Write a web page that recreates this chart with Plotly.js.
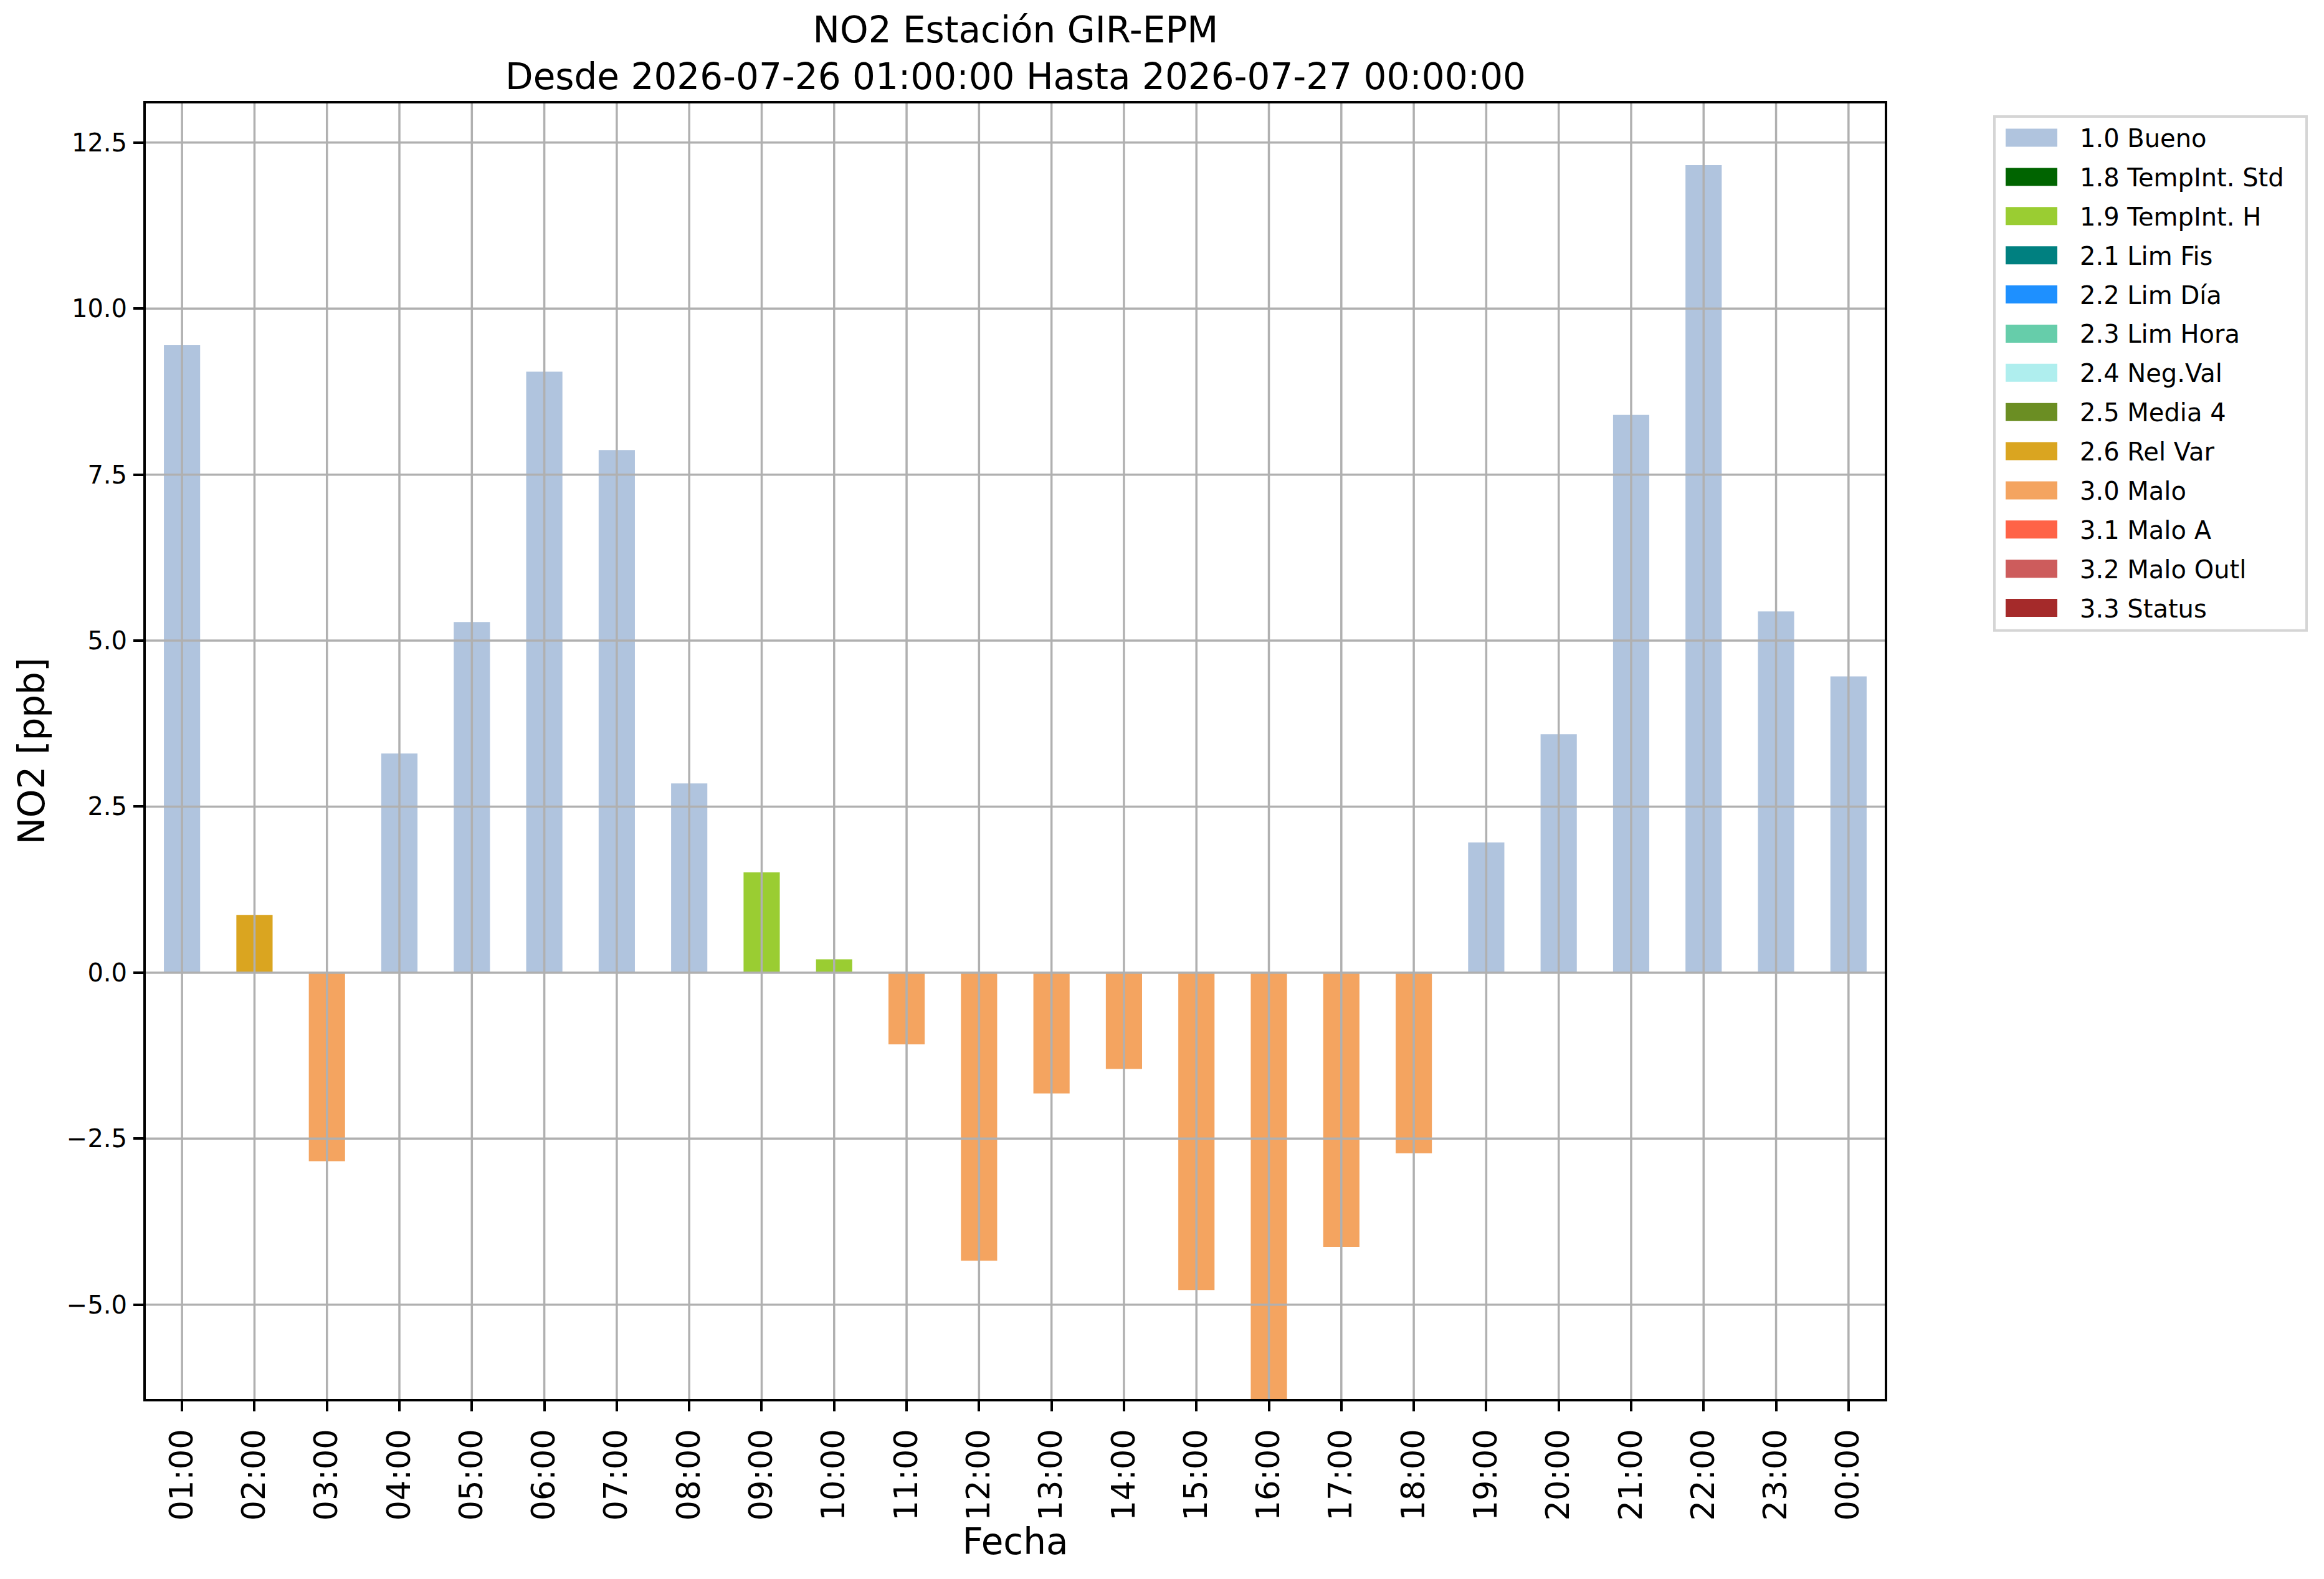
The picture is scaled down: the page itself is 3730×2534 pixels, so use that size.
<!DOCTYPE html>
<html>
<head>
<meta charset="utf-8">
<script src="https://cdn.plot.ly/plotly-3.0.1.min.js"></script>
<style>
  html, body { margin: 0; padding: 0; background: #fff; }
</style>
</head>
<body>
<div id="grafik" style="width:3730px;height:2534px;"></div>
<script>
// horas del eje x
const horas = ["01:00", "02:00", "03:00", "04:00", "05:00", "06:00", "07:00", "08:00",
  "09:00", "10:00", "11:00", "12:00", "13:00", "14:00", "15:00", "16:00",
  "17:00", "18:00", "19:00", "20:00", "21:00", "22:00", "23:00", "00:00"];

// valores NO2 [ppb]
const valores = [9.45, 0.87, -2.84, 3.30, 5.28, 9.05, 7.87, 2.85,
  1.51, 0.20, -1.08, -4.34, -1.82, -1.45, -4.78, -6.90,
  -4.13, -2.72, 1.96, 3.59, 8.40, 12.16, 5.44, 4.46];

// bandera de calidad de cada hora
const banderas = ["1.0 Bueno", "2.6 Rel Var", "3.0 Malo", "1.0 Bueno", "1.0 Bueno", "1.0 Bueno", "1.0 Bueno", "1.0 Bueno",
  "1.9 TempInt. H", "1.9 TempInt. H", "3.0 Malo", "3.0 Malo", "3.0 Malo", "3.0 Malo", "3.0 Malo", "3.0 Malo",
  "3.0 Malo", "3.0 Malo", "1.0 Bueno", "1.0 Bueno", "1.0 Bueno", "1.0 Bueno", "1.0 Bueno", "1.0 Bueno"];

// categorias de la leyenda y sus colores
const categorias = ["1.0 Bueno", "1.8 TempInt. Std", "1.9 TempInt. H", "2.1 Lim Fis", "2.2 Lim Día",
  "2.3 Lim Hora", "2.4 Neg.Val", "2.5 Media 4", "2.6 Rel Var", "3.0 Malo", "3.1 Malo A",
  "3.2 Malo Outl", "3.3 Status"];
const colores = ["#B0C4DE", "#006400", "#9ACD32", "#008080", "#1E90FF", "#66CDAA", "#AFEEEE",
  "#6B8E23", "#DAA520", "#F4A460", "#FF6347", "#CD5C5C", "#A52A2A"];

// ticks del eje y
const yTicks = [-5, -2.5, 0, 2.5, 5, 7.5, 10, 12.5];
const yTickText = ["\u22125.0", "\u22122.5", "0.0", "2.5", "5.0", "7.5", "10.0", "12.5"];

const FUENTE = "DejaVu Sans";
const GRIS = "#b0b0b0";

// posicion del area de dibujo en pixeles
const L = 234, R = 3025, T = 166, B = 2245.5;
const px = (x) => (x - L) / (R - L);
const py = (y) => (B - y) / (B - T);

// una traza por categoria
const data = categorias.map((cat, k) => ({
  type: "bar",
  name: cat,
  x: horas,
  y: valores.map((v, i) => (banderas[i] === cat ? v : null)),
  width: 0.5,
  marker: { color: colores[k], line: { width: 0 } },
  showlegend: false,
  hoverinfo: "x+y+name"
}));

// rejilla encima de las barras
const shapes = [];
horas.forEach((h, i) => {
  shapes.push({ type: "line", xref: "x", yref: "paper", x0: i, x1: i, y0: 0, y1: 1,
    line: { color: GRIS, width: 3.5 }, layer: "above" });
});
yTicks.forEach((t) => {
  shapes.push({ type: "line", xref: "paper", yref: "y", x0: 0, x1: 1, y0: t, y1: t,
    line: { color: GRIS, width: 3.5 }, layer: "above" });
});

// leyenda dibujada a mano
const annotations = [];
const legL = 3201, legR = 3702, legT = 187, legB = 1012;
shapes.push({ type: "rect", xref: "paper", yref: "paper",
  x0: px(legL), x1: px(legR), y0: py(legB), y1: py(legT),
  line: { color: "#d5d5d5", width: 4 }, fillcolor: "rgba(255,255,255,0.8)", layer: "above" });
categorias.forEach((cat, k) => {
  const yc = 221 + k * 62.9;
  shapes.push({ type: "rect", xref: "paper", yref: "paper",
    x0: px(3219), x1: px(3302), y0: py(yc + 14.5), y1: py(yc - 14.5),
    line: { width: 0 }, fillcolor: colores[k], layer: "above" });
  annotations.push({ xref: "paper", yref: "paper", x: px(3336), y: py(yc + 1),
    xanchor: "left", yanchor: "middle", showarrow: false, text: cat,
    font: { family: FUENTE, size: 40, color: "#000" } });
});

const layout = {
  width: 3730,
  height: 2534,
  paper_bgcolor: "#fff",
  plot_bgcolor: "#fff",
  margin: { l: L, r: 3730 - R, t: T, b: 2534 - B, pad: 0 },
  barmode: "overlay",
  showlegend: false,
  font: { family: FUENTE, color: "#000" },
  title: {
    text: "NO2 Estación GIR-EPM<br>Desde 2026-07-26 01:00:00 Hasta 2026-07-27 00:00:00",
    font: { family: FUENTE, size: 58, color: "#000" },
    x: px(1630), xref: "paper", xanchor: "center",
    y: 1 - 68 / 2534, yref: "container", yanchor: "middle"
  },
  xaxis: {
    type: "category",
    range: [-0.5, 23.5],
    showgrid: false,
    zeroline: false,
    showline: true, mirror: true, linecolor: "#000", linewidth: 4,
    ticks: "outside", ticklen: 16, tickwidth: 4, tickcolor: "#000",
    tickangle: -90,
    tickfont: { family: FUENTE, size: 51, color: "#000" },
    ticklabelstandoff: 8,
    automargin: false,
    title: { text: "Fecha", font: { family: FUENTE, size: 58, color: "#000" }, standoff: 9 }
  },
  yaxis: {
    range: [-6.42, 13.09],
    tickvals: yTicks,
    ticktext: yTickText,
    showgrid: false,
    zeroline: false,
    showline: true, mirror: true, linecolor: "#000", linewidth: 4,
    ticks: "outside", ticklen: 16, tickwidth: 4, tickcolor: "#000",
    tickfont: { family: FUENTE, size: 40, color: "#000" },
    ticklabelstandoff: 2,
    automargin: false,
    title: { text: "NO2 [ppb]", font: { family: FUENTE, size: 58, color: "#000" }, standoff: 18 }
  },
  shapes: shapes,
  annotations: annotations
};

Plotly.newPlot("grafik", data, layout, { displayModeBar: false, staticPlot: true });
</script>
</body>
</html>
